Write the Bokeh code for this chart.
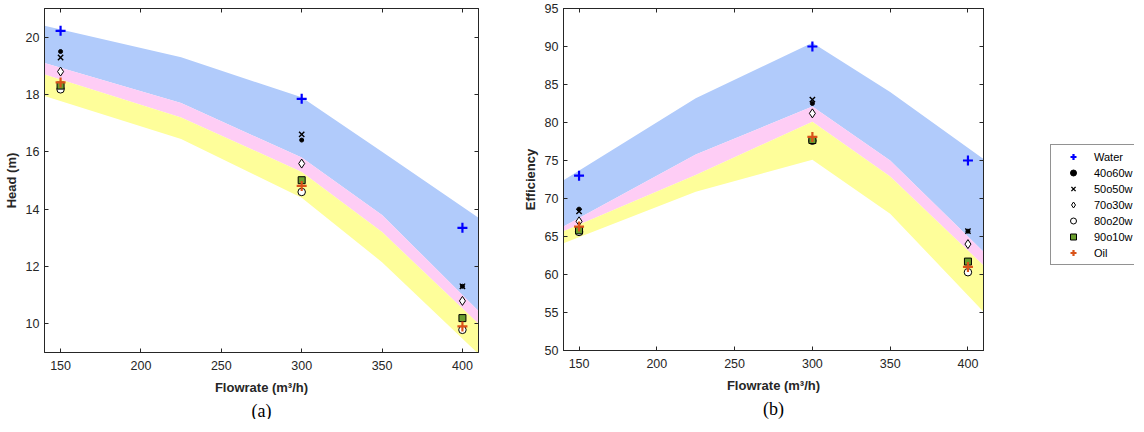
from bokeh.plotting import figure
from bokeh.models import (Range1d, LinearAxis, FixedTicker, CustomJSTickFormatter,
                          Legend, LegendItem)
from bokeh.layouts import row
from bokeh.embed import file_html
from bokeh.resources import INLINE

# ---------------- data ----------------
band_flow = [140, 225, 300, 350, 410]

head_blue_top = [20.4, 19.3, 17.9, 16.0, 13.7]
head_pink_top = [19.1, 17.7, 15.8, 13.8, 10.45]
head_yellow_top = [18.7, 17.2, 15.3, 13.2, 10.0]
head_yellow_bot = [17.95, 16.45, 14.4, 12.15, 8.95]

eff_blue_top = [72.4, 83.2, 90.5, 84.0, 75.2]
eff_pink_top = [66.3, 75.8, 82.1, 75.0, 63.0]
eff_yellow_top = [65.7, 73.1, 80.1, 72.9, 61.2]
eff_yellow_bot = [64.1, 70.9, 75.1, 68.0, 55.1]

flows = [150, 300, 400]
series_names = ["Water", "40o60w", "50o50w", "70o30w", "80o20w", "90o10w", "Oil"]

head_water = [20.22, 17.85, 13.35]
head_40o60w = [19.5, 16.41, 11.31]
head_50o50w = [19.29, 16.61, 11.31]
head_70o30w = [18.8, 15.59, 10.8]
head_80o20w = [18.18, 14.6, 9.79]
head_90o10w = [18.31, 15.01, 10.2]
head_oil = [18.42, 14.81, 9.91]

eff_water = [73.0, 90.0, 75.0]
eff_40o60w = [68.6, 82.5, 65.7]
eff_50o50w = [68.3, 83.0, 65.7]
eff_70o30w = [67.0, 81.2, 64.0]
eff_80o20w = [65.6, 77.6, 60.3]
eff_90o10w = [65.8, 77.7, 61.7]
eff_oil = [66.3, 78.1, 61.0]

x_ticks = [150, 200, 250, 300, 350, 400]
head_ticks = [10, 12, 14, 16, 18, 20]
eff_ticks = [50, 55, 60, 65, 70, 75, 80, 85, 90, 95]

head_series = [head_water, head_40o60w, head_50o50w, head_70o30w, head_80o20w, head_90o10w, head_oil]
eff_series = [eff_water, eff_40o60w, eff_50o50w, eff_70o30w, eff_80o20w, eff_90o10w, eff_oil]

# ---------------- styles ----------------
BLUE_BAND = "#b1cbfb"
PINK_BAND = "#fecdf5"
YELLOW_BAND = "#fefe9a"
AX = "#262626"
FONT = "Liberation Sans"

marker_styles = [
    dict(marker="cross", size=10, line_color="#0000ff", line_width=2.2, fill_color=None),
    dict(marker="circle", size=4, line_color="black", fill_color="black", line_width=1),
    dict(marker="x", size=7.5, line_color="black", line_width=1.4, fill_color=None),
    dict(marker="diamond", size=9, line_color="black", fill_color="white", line_width=1),
    dict(marker="circle", size=7.5, line_color="black", fill_color="white", line_width=1),
    dict(marker="square", size=7, line_color="black", fill_color="#6a9f2e", line_width=1),
    dict(marker="cross", size=10, line_color="#d95319", line_width=2.2, fill_color=None),
]

blank = CustomJSTickFormatter(code="return ''")


def blank_axis(ticks):
    return LinearAxis(ticker=FixedTicker(ticks=ticks), formatter=blank,
                      major_tick_in=4, major_tick_out=0, minor_tick_line_color=None,
                      axis_line_color=AX, major_tick_line_color=AX,
                      major_label_text_font_size="0px", major_label_standoff=0)


def style_axes(p, yticks, caption):
    p.grid.visible = False
    p.outline_line_color = AX
    p.outline_line_width = 1
    for ax in p.xaxis + p.yaxis:
        ax.major_tick_in = 4
        ax.major_tick_out = 0
        ax.minor_tick_line_color = None
        ax.axis_line_color = AX
        ax.major_tick_line_color = AX
        ax.major_label_text_color = AX
        ax.major_label_text_font = FONT
        ax.major_label_text_font_size = "12.5px"
        ax.axis_label_text_font = FONT
        ax.axis_label_text_font_style = "bold"
        ax.axis_label_text_font_size = "13px"
        ax.axis_label_text_color = AX
    p.xaxis.ticker = FixedTicker(ticks=x_ticks)
    p.yaxis.ticker = FixedTicker(ticks=yticks)
    p.xaxis.major_label_standoff = 8
    p.yaxis.major_label_standoff = 5
    p.xaxis.axis_label_standoff = 7
    p.yaxis.axis_label_standoff = 4
    p.add_layout(blank_axis(x_ticks), "above")
    p.add_layout(blank_axis(yticks), "right")
    # caption "(a)" / "(b)" below the x axis title
    cap = LinearAxis(ticker=FixedTicker(ticks=[]), formatter=blank,
                     major_tick_in=0, major_tick_out=0, minor_tick_line_color=None,
                     axis_line_color=None, major_tick_line_color=None,
                     major_label_text_font_size="0px", major_label_standoff=0,
                     axis_label=caption, axis_label_standoff=3,
                     axis_label_text_font="Liberation Serif", axis_label_text_font_size="18px",
                     axis_label_text_font_style="normal", axis_label_text_color="black")
    p.add_layout(cap, "below")


def draw_panel(p, blue_top, pink_top, yellow_top, yellow_bot, series):
    p.varea(x=band_flow, y1=pink_top, y2=blue_top, fill_color=BLUE_BAND)
    p.varea(x=band_flow, y1=yellow_top, y2=pink_top, fill_color=PINK_BAND)
    p.varea(x=band_flow, y1=yellow_bot, y2=yellow_top, fill_color=YELLOW_BAND)
    for vals, st in zip(series, marker_styles):
        p.scatter(x=flows, y=vals, **st)


# ---------------- panel (a) ----------------
p1 = figure(frame_width=434, frame_height=344,
            x_range=Range1d(140, 410), y_range=Range1d(9, 21),
            min_border_left=38, min_border_right=20, min_border_top=4, min_border_bottom=68,
            output_backend="svg", toolbar_location=None)
draw_panel(p1, head_blue_top, head_pink_top, head_yellow_top, head_yellow_bot, head_series)
p1.xaxis.axis_label = "Flowrate (m³/h)"
p1.yaxis.axis_label = "Head (m)"
style_axes(p1, head_ticks, "(a)")

# ---------------- panel (b) ----------------
p2 = figure(frame_width=420, frame_height=342,
            x_range=Range1d(140, 410), y_range=Range1d(50, 95),
            min_border_left=65, min_border_right=15, min_border_top=8, min_border_bottom=66,
            output_backend="svg", toolbar_location=None)
draw_panel(p2, eff_blue_top, eff_pink_top, eff_yellow_top, eff_yellow_bot, eff_series)
p2.xaxis[0].axis_label = "Flowrate (m³/h)"
p2.yaxis[0].axis_label = "Efficiency"
style_axes(p2, eff_ticks, "(b)")

# ---------------- legend panel ----------------
pl = figure(width=136, height=416, x_range=Range1d(0, 1), y_range=Range1d(0, 1),
            x_axis_type=None, y_axis_type=None, min_border=0,
            output_backend="svg", toolbar_location=None)
pl.outline_line_color = None
pl.grid.visible = False
items = []
for name, st in zip(series_names, marker_styles):
    r = pl.scatter(x=[-5], y=[-5], **st)
    items.append(LegendItem(label=name, renderers=[r]))
leg = Legend(items=items, location=(52, 80), border_line_color=AX, border_line_width=1,
             background_fill_color="white", background_fill_alpha=1,
             label_text_font=FONT, label_text_font_size="11px", label_text_color="black",
             glyph_width=36, glyph_height=15, label_height=15, spacing=1,
             padding=4, margin=0, label_standoff=3)
pl.add_layout(leg, "center")

layout = row(p1, p2, pl, spacing=0)
open("out.html", "w").write(file_html(layout, INLINE))
